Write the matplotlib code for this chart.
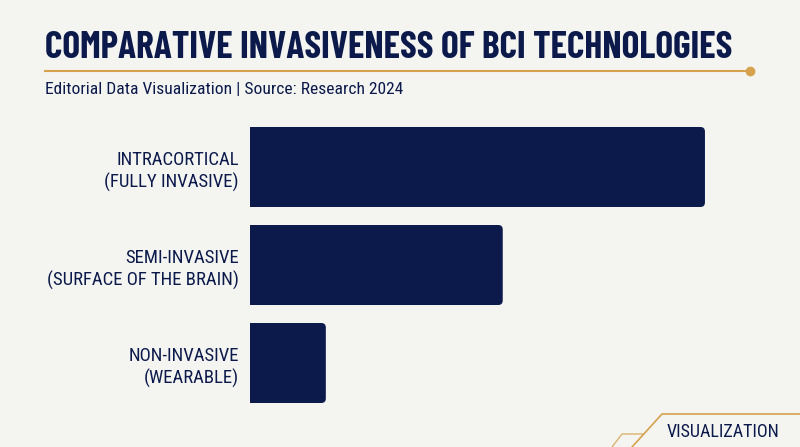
import matplotlib
matplotlib.use("Agg")
import matplotlib.pyplot as plt
from matplotlib.patches import FancyBboxPatch
from matplotlib.lines import Line2D

# data
categories = ["INTRACORTICAL\n(FULLY INVASIVE)",
              "SEMI-INVASIVE\n(SURFACE OF THE BRAIN)",
              "NON-INVASIVE\n(WEARABLE)"]
invasiveness = [9.0, 5.0, 1.5]

title = "COMPARATIVE INVASIVENESS OF BCI TECHNOLOGIES"
subtitle = "Editorial Data Visualization | Source: Research 2024"
corner_tag = "VISUALIZATION"

bg = "#f4f4f1"
navy = "#0b1a4b"
gold = "#d6a24e"
cond = "Roboto Condensed"

W, H = 800, 447
fig = plt.figure(figsize=(8, 4.47), dpi=100, facecolor=bg)

# axes: x 250..755 px, y 118..412 px
ax = fig.add_axes([250 / W, (H - 412) / H, 505.5 / W, 294 / H])
ax.set_facecolor(bg)
ax.set_xlim(0, 10)
ax.set_ylim(2.5, -0.5)

bh = 80 / 98
aspect = (505.5 / 10) / 98
for i, v in enumerate(invasiveness):
    p = FancyBboxPatch((-0.5, i - bh / 2), v + 0.5, bh,
                       boxstyle="round,pad=0,rounding_size=0.09",
                       mutation_aspect=aspect, facecolor=navy,
                       edgecolor="none", clip_on=True)
    ax.add_patch(p)

ax.set_yticks(range(len(categories)))
ax.set_yticklabels(categories, fontsize=13.5, color=navy, family=cond,
                   linespacing=1.3)
ax.tick_params(axis="y", length=0, pad=8)
ax.set_xticks([])
for s in ax.spines.values():
    s.set_visible(False)

# header
fig.text(45 / W, 1 - 48 / H, title, fontsize=27, fontweight="bold",
         color=navy, family="Barlow Condensed", va="center", ha="left")
fig.add_artist(Line2D([45 / W, 750 / W], [1 - 71 / H, 1 - 71 / H],
                      color=gold, lw=1.5))
fig.add_artist(Line2D([750 / W], [1 - 71 / H], marker="o", markersize=6,
                      color=gold, lw=0))
fig.text(45 / W, 1 - 89 / H, subtitle, fontsize=12.6, color=navy,
         family=cond, va="center", ha="left")

# corner decoration
fig.add_artist(Line2D([632 / W, 662 / W, 1.0], [0, 1 - 414 / H, 1 - 414 / H],
                      color=gold, lw=1.2))
fig.add_artist(Line2D([612 / W, 622 / W, 643 / W], [0, 1 - 434 / H, 1 - 434 / H],
                      color=gold, lw=1.0, alpha=0.8))
fig.text(667 / W, 1 - 432 / H, corner_tag, fontsize=13, color=navy,
         family=cond, va="center", ha="left")

fig.savefig("out.png", dpi=100, facecolor=bg)
